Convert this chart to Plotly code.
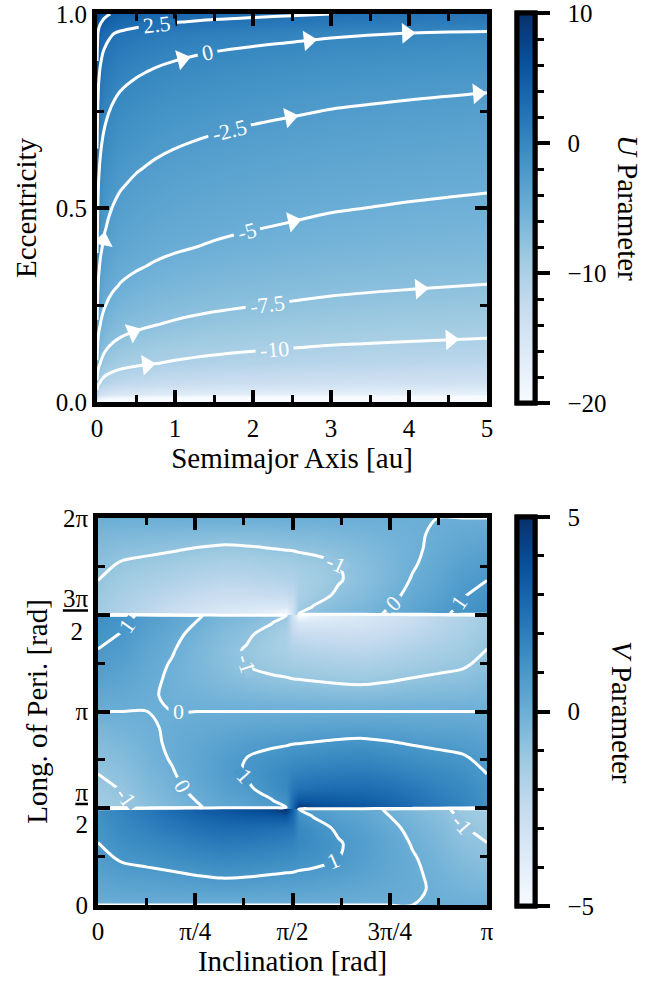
import numpy as np
import plotly.graph_objects as go
from plotly.colors import sample_colorscale

FONT = "Liberation Serif"
W, H = 668, 981
PI = np.pi

# ---------------- top panel data: U parameter (rows: eccentricity, cols: semimajor axis) ----------------
semimajor_axis = [0, 0.01, 0.02, 0.035, 0.05, 0.075, 0.1, 0.15, 0.2, 0.3, 0.5, 0.75, 1, 1.5, 2, 2.5, 3, 4, 5]
eccentricity = [0, 0.02, 0.05, 0.1, 0.15, 0.2, 0.25, 0.3, 0.35, 0.4, 0.45, 0.5, 0.55, 0.6, 0.65,
                0.7, 0.75, 0.8, 0.85, 0.9, 0.95, 0.98, 1.0]
u_parameter = [
    [-20.0, -21.1, -21.7, -22.15, -22.45, -22.8, -23.05, -23.4, -23.65, -24.0, -24.4, -24.75, -25.0, -25.35, -25.6, -25.8, -26.0, -26.25, -26.45],
    [-11.3, -12.4, -13.0, -13.45, -13.75, -14.1, -14.35, -14.7, -14.95, -15.3, -15.7, -16.05, -16.3, -16.65, -16.9, -17.1, -17.3, -17.55, -17.75],
    [-7.8, -8.9, -9.5, -9.95, -10.25, -10.6, -10.85, -11.2, -11.45, -11.8, -12.2, -12.55, -12.8, -13.15, -13.4, -13.6, -13.8, -14.05, -14.25],
    [-5.2, -6.3, -6.9, -7.35, -7.65, -8.0, -8.25, -8.6, -8.85, -9.2, -9.6, -9.95, -10.2, -10.55, -10.8, -11.0, -11.2, -11.45, -11.65],
    [-3.9, -5.0, -5.6, -6.05, -6.35, -6.7, -6.95, -7.3, -7.55, -7.9, -8.3, -8.65, -8.9, -9.25, -9.5, -9.7, -9.9, -10.15, -10.35],
    [-2.7, -3.8, -4.4, -4.85, -5.15, -5.5, -5.75, -6.1, -6.35, -6.7, -7.1, -7.45, -7.7, -8.05, -8.3, -8.5, -8.7, -8.95, -9.15],
    [-1.85, -2.95, -3.55, -4.0, -4.3, -4.65, -4.9, -5.25, -5.5, -5.85, -6.25, -6.6, -6.85, -7.2, -7.45, -7.65, -7.85, -8.1, -8.3],
    [-1.1, -2.2, -2.8, -3.25, -3.55, -3.9, -4.15, -4.5, -4.75, -5.1, -5.5, -5.85, -6.1, -6.45, -6.7, -6.9, -7.1, -7.35, -7.55],
    [-0.42, -1.52, -2.12, -2.57, -2.87, -3.22, -3.47, -3.82, -4.07, -4.42, -4.82, -5.17, -5.42, -5.77, -6.02, -6.22, -6.42, -6.67, -6.87],
    [0.2, -0.9, -1.5, -1.95, -2.25, -2.6, -2.85, -3.2, -3.45, -3.8, -4.2, -4.55, -4.8, -5.15, -5.4, -5.6, -5.8, -6.05, -6.25],
    [0.67, -0.43, -1.03, -1.48, -1.78, -2.13, -2.38, -2.73, -2.98, -3.33, -3.73, -4.08, -4.33, -4.68, -4.93, -5.13, -5.33, -5.58, -5.78],
    [1.11, 0.01, -0.59, -1.04, -1.34, -1.69, -1.94, -2.29, -2.54, -2.89, -3.29, -3.64, -3.89, -4.24, -4.49, -4.69, -4.89, -5.14, -5.34],
    [1.55, 0.45, -0.15, -0.6, -0.9, -1.25, -1.5, -1.85, -2.1, -2.45, -2.85, -3.2, -3.45, -3.8, -4.05, -4.25, -4.45, -4.7, -4.9],
    [2.0, 0.9, 0.3, -0.15, -0.45, -0.8, -1.05, -1.4, -1.65, -2.0, -2.4, -2.75, -3.0, -3.35, -3.6, -3.8, -4.0, -4.25, -4.45],
    [2.47, 1.37, 0.77, 0.32, 0.02, -0.33, -0.58, -0.93, -1.18, -1.53, -1.93, -2.28, -2.53, -2.88, -3.13, -3.33, -3.53, -3.78, -3.98],
    [2.95, 1.85, 1.25, 0.8, 0.5, 0.15, -0.1, -0.45, -0.7, -1.05, -1.45, -1.8, -2.05, -2.4, -2.65, -2.85, -3.05, -3.3, -3.5],
    [3.45, 2.35, 1.75, 1.3, 1.0, 0.65, 0.4, 0.05, -0.2, -0.55, -0.95, -1.3, -1.55, -1.9, -2.15, -2.35, -2.55, -2.8, -3.0],
    [3.98, 2.88, 2.28, 1.83, 1.53, 1.18, 0.93, 0.58, 0.33, -0.02, -0.42, -0.77, -1.02, -1.37, -1.62, -1.82, -2.02, -2.27, -2.47],
    [4.58, 3.48, 2.88, 2.43, 2.13, 1.78, 1.53, 1.18, 0.93, 0.58, 0.18, -0.17, -0.42, -0.77, -1.02, -1.22, -1.42, -1.67, -1.87],
    [5.3, 4.2, 3.6, 3.15, 2.85, 2.5, 2.25, 1.9, 1.65, 1.3, 0.9, 0.55, 0.3, -0.05, -0.3, -0.5, -0.7, -0.95, -1.15],
    [6.22, 5.12, 4.52, 4.07, 3.77, 3.42, 3.17, 2.82, 2.57, 2.22, 1.82, 1.47, 1.22, 0.87, 0.62, 0.42, 0.22, -0.03, -0.23],
    [7.6, 6.5, 5.9, 5.45, 5.15, 4.8, 4.55, 4.2, 3.95, 3.6, 3.2, 2.85, 2.6, 2.25, 2.0, 1.8, 1.6, 1.35, 1.15],
    [8.5, 7.4, 6.8, 6.35, 6.05, 5.7, 5.45, 5.1, 4.85, 4.5, 4.1, 3.75, 3.5, 3.15, 2.9, 2.7, 2.5, 2.25, 2.05],
]
u_levels = dict(start=-10, end=5, size=2.5)
u_range = [-20, 10]
u_major_ticks = [-20, -10, 0, 10]
u_major_text = ["\u2002\u221220", "\u2002\u221210", "\u20020", "\u200210"]
u_minor_ticks = [-18, -16, -14, -12, -8, -6, -4, -2, 2, 4, 6, 8]
# flow-direction arrow heads: contour level -> semimajor axis of each head
u_arrows = {0: [1.09, 2.71, 3.97], -2.5: [0.08, 2.47, 4.88], -5: [2.51],
            -7.5: [0.46, 4.14], -10: [0.64, 4.53]}
# inline contour labels: level -> semimajor axis of the label
u_labels = {2.5: 0.77, 0: 1.42, -2.5: 1.70, -5: 1.92, -7.5: 2.19, -10: 2.27}

# ---------------- bottom panel data: V parameter (rows: long. of peri., cols: inclination) ----------------
inclination = [0, 0.2, 0.4, 0.6, 0.8, 1.0, 1.2, 1.4, 1.52, 1.5708, 1.6216, 1.7416,
               1.9416, 2.1416, 2.3416, 2.5416, 2.7416, 2.9416, 3.1416]
# first quarter of the longitude-of-perihelion range [0, pi/2)
long_peri_quarter = [0, 0.25, 0.5, 0.75, 1.0, 1.25, 1.45, 1.56]
v_quarter = [
    [0] * 19,
    [0.3, 0.4, 0.43, 0.47, 0.53, 0.59, 0.56, 0.51, 0.48, 0.47, 0.46, 0.43, 0.36, 0.27, 0.17, 0.07, -0.06, -0.2, -0.3],
    [0.56, 0.76, 0.83, 0.92, 1.04, 1.14, 1.1, 1.01, 0.96, 0.94, 0.91, 0.85, 0.72, 0.52, 0.31, 0.1, -0.14, -0.4, -0.56],
    [0.8, 1.08, 1.2, 1.35, 1.52, 1.65, 1.6, 1.5, 1.42, 1.4, 1.3, 1.22, 1.0, 0.7, 0.38, 0.06, -0.24, -0.6, -0.8],
    [0.99, 1.36, 1.55, 1.77, 2.0, 2.15, 2.1, 2.0, 1.9, 1.85, 1.6, 1.42, 1.06, 0.74, 0.36, -0.05, -0.36, -0.8, -0.99],
    [1.17, 1.6, 1.88, 2.2, 2.5, 2.7, 2.7, 2.6, 2.5, 2.3, 1.65, 1.3, 0.88, 0.6, 0.22, -0.2, -0.52, -0.96, -1.17],
    [1.3, 1.77, 2.12, 2.55, 2.95, 3.25, 3.4, 3.5, 3.6, 2.8, 1.3, 0.95, 0.62, 0.4, 0.02, -0.36, -0.7, -1.1, -1.3],
    [1.37, 1.86, 2.25, 2.75, 3.2, 3.6, 3.9, 4.3, 5.0, 3.0, 0.95, 0.72, 0.48, 0.28, -0.08, -0.45, -0.8, -1.18, -1.37],
]
v_levels = dict(start=-1, end=1, size=1)
v_range = [-5, 5]
v_major_ticks = [-5, 0, 5]
v_major_text = ["\u2002\u22125", "\u20020", "\u20025"]
v_minor_ticks = [-4, -3, -2, -1, 1, 2, 3, 4]
# inline contour labels: (level, inclination, long. of peri.) near where each label sits
v_labels = [(-1, 1.90, 5.52), (0, 2.38, 4.90), (1, 2.92, 4.90), (1, 0.20, 4.58),
            (-1, 1.21, 3.93), (0, 0.65, 3.1416), (-1, 0.20, 1.70), (0, 0.65, 1.87),
            (1, 1.17, 2.08), (1, 1.90, 0.73), (-1, 2.95, 1.33)]

# The picture is symmetric: V(pi-i, pi-w) = V(i, w) and V(i, 2pi-w) = -V(i, w);
# the other three quarters are mirror images of the first one.
wq = np.array(long_peri_quarter)
Bq = np.array(v_quarter, dtype=float)
long_peri = np.concatenate([wq, PI - wq[:0:-1], PI + wq[1:], 2 * PI - wq[::-1]])
v_parameter = np.vstack([Bq, Bq[:0:-1, ::-1], -Bq[1:, ::-1], -Bq[::-1, :]])

BLUES = [[0.0, "rgb(247,251,255)"], [0.125, "rgb(222,235,247)"], [0.25, "rgb(198,219,239)"],
         [0.375, "rgb(158,202,225)"], [0.5, "rgb(107,174,214)"], [0.625, "rgb(66,146,198)"],
         [0.75, "rgb(33,113,181)"], [0.875, "rgb(8,81,156)"], [1.0, "rgb(8,48,107)"]]

# ---------------- layout geometry (pixels) ----------------
TOP = dict(x0=97, x1=487, y0=14, y1=402)
BOT = dict(x0=98, x1=487, y0=518, y1=905)
CB_X = 516.5
TICK_SIZE = 25
TITLE_SIZE = 29
LABEL_SIZE = 22
LINE_W = 3


def xdom(b):
    return [b["x0"] / W, b["x1"] / W]


def ydom(b):
    return [1 - b["y1"] / H, 1 - b["y0"] / H]


tickfont = dict(family=FONT, size=TICK_SIZE, color="black")
title_font = dict(family=FONT, size=TITLE_SIZE, color="black")


def colorbar(b, tickvals, ticktext, ticklen, tickwidth):
    cb = dict(
        x=CB_X / W, xanchor="left", xpad=0, ypad=0,
        y=1 - (b["y0"] + b["y1"]) / 2 / H, yanchor="middle",
        len=b["y1"] - b["y0"] + 2, lenmode="pixels",
        thickness=18, thicknessmode="pixels",
        outlinewidth=5, outlinecolor="black",
        tickmode="array", tickvals=tickvals, ticks="outside",
        ticklen=ticklen, tickwidth=tickwidth, tickcolor="black",
        showticklabels=ticktext is not None, ticklabeloverflow="allow",
        tickfont=dict(family=FONT, size=TICK_SIZE, color="black"),
    )
    if ticktext is not None:
        cb["ticktext"] = ticktext
    return cb


def heat(x, y, z, rng, cb, ax, ay, opacity=1.0):
    return go.Heatmap(x=x, y=y, z=z, zsmooth="best", colorscale=BLUES,
                      zmin=rng[0], zmax=rng[1], opacity=opacity, colorbar=cb,
                      hoverinfo="skip", xaxis=ax, yaxis=ay)


def lines(x, y, z, levels, ax, ay):
    return go.Contour(
        x=x, y=y, z=z, autocontour=False,
        contours=dict(**levels, coloring="none", showlabels=False),
        line=dict(color="white", width=LINE_W, smoothing=1),
        showscale=False, hoverinfo="skip", xaxis=ax, yaxis=ay)


CHAR_EM = {"-": 0.333, ".": 0.25}


def label_annotations(text, x, y, ang, color, ax, ay):
    """A thin strip in the local colour hides the line under the label, then the text."""
    width = sum(CHAR_EM.get(c, 0.5) for c in text) * LABEL_SIZE + 8
    common = dict(x=x, y=y, xref=ax, yref=ay, showarrow=False, textangle=ang,
                  xanchor="center", yanchor="middle")
    return [
        dict(**common, text="\u00a0", width=width, height=8, bgcolor=color, borderpad=0,
             font=dict(size=4)),
        dict(**common, text=text, font=dict(family=FONT, size=LABEL_SIZE, color="white")),
    ]


def level_color(level, rng):
    return sample_colorscale(BLUES, [(level - rng[0]) / (rng[1] - rng[0])])[0]


fig = go.Figure()
annotations = []

# ---- top panel ----
fig.add_trace(heat(semimajor_axis, eccentricity, u_parameter, u_range,
                   colorbar(TOP, u_minor_ticks, None, 7, 3), "x", "y", opacity=0))
fig.add_trace(heat(semimajor_axis, eccentricity, u_parameter, u_range,
                   colorbar(TOP, u_major_ticks, u_major_text, 13, 4), "x", "y"))
fig.add_trace(lines(semimajor_axis, eccentricity, u_parameter, u_levels, "x", "y"))

U = np.array(u_parameter)
A = np.array(semimajor_axis)
E = np.array(eccentricity)
px_a = (TOP["x1"] - TOP["x0"]) / 5.0
px_e = (TOP["y1"] - TOP["y0"]) / 1.0


def e_on_level(level, av):
    col = np.array([np.interp(av, A, row) for row in U])
    return float(np.interp(level, col, E))


def on_line(level, av):
    d = max(0.004, 0.04 * av)
    ev = e_on_level(level, av)
    e1, e2 = e_on_level(level, av - d), e_on_level(level, av + d)
    ang = -np.degrees(np.arctan2((e2 - e1) * px_e, 2 * d * px_a))
    return ev, ang


ax_, ay_, ang_ = [], [], []
for lev, alist in u_arrows.items():
    for av in alist:
        ev, ang = on_line(lev, av)
        ax_.append(av)
        ay_.append(ev)
        ang_.append(ang)
fig.add_trace(go.Scatter(
    x=ax_, y=ay_, mode="markers", xaxis="x", yaxis="y", hoverinfo="skip",
    marker=dict(symbol="triangle-right", size=18, color="white", angle=ang_,
                line=dict(width=0)), showlegend=False))

for lev, av in u_labels.items():
    ev, ang = on_line(lev, av)
    annotations += label_annotations("%g" % lev, av, ev, ang, level_color(lev, u_range), "x", "y")

# ---- bottom panel ----
fig.add_trace(heat(inclination, long_peri, v_parameter, v_range,
                   colorbar(BOT, v_minor_ticks, None, 7, 3), "x2", "y2", opacity=0))
fig.add_trace(heat(inclination, long_peri, v_parameter, v_range,
                   colorbar(BOT, v_major_ticks, v_major_text, 13, 4), "x2", "y2"))
fig.add_trace(lines(inclination, long_peri, v_parameter, v_levels, "x2", "y2"))

VI = np.array(inclination)
px_i = (BOT["x1"] - BOT["x0"]) / PI
px_w = (BOT["y1"] - BOT["y0"]) / (2 * PI)


def v_at(i, w):
    col = np.array([np.interp(i, VI, row) for row in v_parameter])
    return float(np.interp(w, long_peri, col))


def v_grad(i, w, h=2e-3):
    gi = (v_at(i + h, w) - v_at(i - h, w)) / (2 * h) / px_i
    gw = (v_at(i, w + h) - v_at(i, w - h)) / (2 * h) / px_w
    return gi, gw


for lev, i0, w0 in v_labels:
    gi, gw = v_grad(i0, w0)
    n = np.hypot(gi, gw)
    ui, uw = gi / n, gw / n
    ts = np.linspace(-30, 30, 241)
    vals = np.array([v_at(i0 + t * ui / px_i, w0 + t * uw / px_w) - lev for t in ts])
    idx = np.where(np.sign(vals[:-1]) != np.sign(vals[1:]))[0]
    if len(idx):
        k = idx[np.argmin(np.abs(ts[idx]))]
        t = ts[k] - vals[k] * (ts[k + 1] - ts[k]) / (vals[k + 1] - vals[k])
    else:
        t = 0.0
    il, wl = i0 + t * ui / px_i, w0 + t * uw / px_w
    gi, gw = v_grad(il, wl)
    ang = np.degrees(np.arctan2(gi, -gw))  # tangent direction (-gw, gi) in screen-up coords
    if ang > 90:
        ang -= 180
    if ang < -90:
        ang += 180
    annotations += label_annotations("%g" % lev, il, wl, -ang, level_color(lev, v_range), "x2", "y2")

axis_common = dict(
    showline=True, linewidth=5, linecolor="black", mirror="allticks",
    ticks="inside", ticklen=12, tickwidth=4, tickcolor="black",
    showgrid=False, zeroline=False, tickfont=tickfont, automargin=False,
)


def minor(dt):
    return dict(ticks="inside", ticklen=7, tickwidth=3, tickcolor="black",
                dtick=dt, tick0=0, showgrid=False)


annotations += [
    dict(text="<i>U</i> Parameter", x=628 / W, y=1 - 208 / H, xref="paper", yref="paper",
         textangle=90, showarrow=False, font=title_font, xanchor="center", yanchor="middle"),
    dict(text="<i>V</i> Parameter", x=622 / W, y=1 - 712 / H, xref="paper", yref="paper",
         textangle=90, showarrow=False, font=title_font, xanchor="center", yanchor="middle"),
]

fig.update_layout(
    width=W, height=H, margin=dict(l=0, r=0, t=0, b=0, autoexpand=False),
    paper_bgcolor="white", plot_bgcolor="white", showlegend=False,
    font=dict(family=FONT, size=TICK_SIZE, color="black"),
    xaxis=dict(**axis_common, domain=xdom(TOP), range=[0, 5], anchor="y",
               tickmode="array", tickvals=[0, 1, 2, 3, 4, 5], minor=minor(0.5),
               title=dict(text="Semimajor Axis [au]", font=title_font, standoff=2)),
    yaxis=dict(**axis_common, domain=ydom(TOP), range=[0, 1], anchor="x",
               tickmode="array", tickvals=[0, 0.5, 1], ticktext=["0.0", "0.5", "1.0"],
               minor=minor(0.25),
               title=dict(text="Eccentricity", font=title_font, standoff=12)),
    xaxis2=dict(**axis_common, domain=xdom(BOT), range=[0, PI], anchor="y2",
                tickmode="array", tickvals=[0, PI / 4, PI / 2, 3 * PI / 4, PI],
                ticktext=["0", "π/4", "π/2", "3π/4", "π"], minor=minor(PI / 8),
                title=dict(text="Inclination [rad]", font=title_font, standoff=2)),
    yaxis2=dict(**axis_common, domain=ydom(BOT), range=[0, 2 * PI], anchor="x2",
                tickmode="array", tickvals=[0, PI / 2, PI, 3 * PI / 2, 2 * PI],
                ticktext=["0", "<u>π</u><br>2", "π", "<u>3π</u><br>2\u2009", "2π"],
                minor=minor(PI / 4),
                title=dict(text="Long. of Peri. [rad]", font=title_font, standoff=8)),
    annotations=annotations,
)

fig.write_html("out.html")
